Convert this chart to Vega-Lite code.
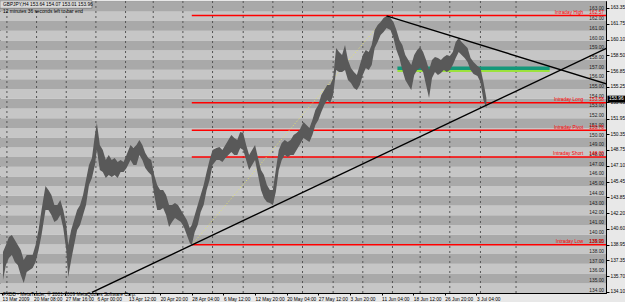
{
  "$schema": "https://vega.github.io/schema/vega-lite/v6.json",
  "width": 606,
  "height": 292,
  "autosize": {"type": "none"},
  "padding": {"left": 0, "top": 1, "right": 19, "bottom": 9},
  "background": "#e8e8e8",
  "config": {
    "view": {"stroke": "#222", "strokeWidth": 1},
    "font": "Liberation Sans",
    "text": {"font": "Liberation Sans", "fontSize": 4.8}
  },
  "resolve": {"axis": {"x": "independent", "y": "independent"}},
  "datasets": {
    "stripes": [
      {"k": 134}, {"k": 135}, {"k": 136}, {"k": 137}, {"k": 138}, {"k": 139}, {"k": 140}, {"k": 141}, {"k": 142}, {"k": 143},
      {"k": 144}, {"k": 145}, {"k": 146}, {"k": 147}, {"k": 148}, {"k": 149}, {"k": 150}, {"k": 151}, {"k": 152}, {"k": 153},
      {"k": 154}, {"k": 155}, {"k": 156}, {"k": 157}, {"k": 158}, {"k": 159}, {"k": 160}, {"k": 161}, {"k": 162}, {"k": 163}, {"k": 164}
    ],
    "grid": [
      {"b": 5}, {"b": 35}, {"b": 65}, {"b": 95}, {"b": 125}, {"b": 153}, {"b": 183}, {"b": 213}, {"b": 244},
      {"b": 274}, {"b": 304}, {"b": 335}, {"b": 365}, {"b": 395}, {"b": 423}, {"b": 453}, {"b": 484}, {"b": 520}
    ],
    "levels": [
      {"name": "Intraday High", "p": 162.57, "b": 192, "b2": 612, "v": "162.57"},
      {"name": "Intraday Long", "p": 153.58, "b": 192, "b2": 612, "v": "153.58"},
      {"name": "Intraday Pivot", "p": 150.76, "b": 192, "b2": 612, "v": "150.76"},
      {"name": "Intraday Short", "p": 148.0, "b": 192, "b2": 612, "v": "148.00"},
      {"name": "Intraday Low", "p": 138.95, "b": 192, "b2": 612, "v": "138.95"}
    ],
    "trend": [
      {"id": "up", "b": 91, "p": 134.05},
      {"id": "up", "b": 612, "p": 159.23},
      {"id": "down", "b": 389, "p": 162.53},
      {"id": "down", "b": 612, "p": 155.52}
    ],
    "dotted": [
      {"b": 192, "p": 138.94},
      {"b": 389, "p": 162.53}
    ],
    "green": [
      {"id": "teal", "b": 400, "b2": 554, "p": 157.14},
      {"id": "lime", "b": 400, "b2": 554, "p": 156.86}
    ],
    "bars": [
      {"b": 1, "hi": 138.22, "lo": 135.33},
      {"b": 4, "hi": 138.94, "lo": 136.88},
      {"b": 7, "hi": 139.76, "lo": 137.6},
      {"b": 10, "hi": 139.97, "lo": 137.91},
      {"b": 13, "hi": 139.45, "lo": 137.19},
      {"b": 16, "hi": 138.94, "lo": 136.88},
      {"b": 19, "hi": 138.42, "lo": 135.85},
      {"b": 22, "hi": 137.39, "lo": 135.03},
      {"b": 25, "hi": 137.91, "lo": 136.16},
      {"b": 28, "hi": 137.91, "lo": 136.36},
      {"b": 31, "hi": 137.91, "lo": 136.57},
      {"b": 34, "hi": 138.94, "lo": 137.19},
      {"b": 37, "hi": 140.48, "lo": 138.42},
      {"b": 40, "hi": 142.54, "lo": 139.97},
      {"b": 44, "hi": 145.02, "lo": 142.54},
      {"b": 47, "hi": 144.6, "lo": 142.54},
      {"b": 50, "hi": 144.09, "lo": 142.03},
      {"b": 53, "hi": 143.06, "lo": 141.31},
      {"b": 56, "hi": 143.06, "lo": 141.51},
      {"b": 59, "hi": 143.57, "lo": 142.03},
      {"b": 62, "hi": 142.54, "lo": 140.69},
      {"b": 65, "hi": 141.0, "lo": 138.42},
      {"b": 67, "hi": 138.94, "lo": 135.64},
      {"b": 70, "hi": 140.48, "lo": 137.39},
      {"b": 73, "hi": 141.51, "lo": 138.94},
      {"b": 76, "hi": 142.54, "lo": 140.48},
      {"b": 79, "hi": 143.06, "lo": 141.0},
      {"b": 82, "hi": 144.09, "lo": 142.03},
      {"b": 85, "hi": 145.63, "lo": 143.06},
      {"b": 88, "hi": 147.18, "lo": 145.12},
      {"b": 91, "hi": 147.9, "lo": 145.84},
      {"b": 94, "hi": 150.27, "lo": 147.18},
      {"b": 96, "hi": 151.51, "lo": 148.72},
      {"b": 99, "hi": 149.24, "lo": 146.66},
      {"b": 102, "hi": 148.72, "lo": 146.46},
      {"b": 105, "hi": 147.69, "lo": 145.84},
      {"b": 108, "hi": 148.21, "lo": 146.15},
      {"b": 111, "hi": 147.69, "lo": 145.94},
      {"b": 114, "hi": 147.9, "lo": 146.15},
      {"b": 117, "hi": 147.49, "lo": 145.84},
      {"b": 120, "hi": 147.69, "lo": 146.46},
      {"b": 123, "hi": 147.49, "lo": 146.46},
      {"b": 126, "hi": 148.21, "lo": 146.87},
      {"b": 130, "hi": 149.24, "lo": 147.69},
      {"b": 133, "hi": 148.93, "lo": 147.18},
      {"b": 136, "hi": 149.24, "lo": 147.18},
      {"b": 139, "hi": 149.75, "lo": 148.21},
      {"b": 142, "hi": 149.24, "lo": 147.69},
      {"b": 145, "hi": 148.42, "lo": 146.87},
      {"b": 148, "hi": 147.9, "lo": 146.46},
      {"b": 151, "hi": 147.69, "lo": 146.15},
      {"b": 154, "hi": 146.15, "lo": 144.09},
      {"b": 157, "hi": 145.12, "lo": 142.54},
      {"b": 160, "hi": 144.6, "lo": 142.54},
      {"b": 163, "hi": 144.6, "lo": 142.75},
      {"b": 166, "hi": 144.09, "lo": 142.03},
      {"b": 169, "hi": 143.06, "lo": 140.79},
      {"b": 172, "hi": 143.06, "lo": 141.31},
      {"b": 175, "hi": 143.27, "lo": 141.72},
      {"b": 178, "hi": 143.06, "lo": 141.51},
      {"b": 181, "hi": 142.54, "lo": 141.31},
      {"b": 184, "hi": 142.03, "lo": 140.79},
      {"b": 187, "hi": 141.51, "lo": 139.97},
      {"b": 190, "hi": 140.69, "lo": 139.15},
      {"b": 192, "hi": 141.0, "lo": 138.94},
      {"b": 195, "hi": 142.03, "lo": 140.28},
      {"b": 198, "hi": 143.06, "lo": 141.0},
      {"b": 201, "hi": 144.09, "lo": 142.34},
      {"b": 204, "hi": 145.12, "lo": 143.06},
      {"b": 207, "hi": 146.46, "lo": 144.6},
      {"b": 210, "hi": 147.69, "lo": 145.63},
      {"b": 213, "hi": 148.72, "lo": 147.18},
      {"b": 217, "hi": 148.93, "lo": 147.69},
      {"b": 220, "hi": 149.03, "lo": 147.69},
      {"b": 223, "hi": 148.72, "lo": 147.49},
      {"b": 226, "hi": 149.24, "lo": 147.9},
      {"b": 229, "hi": 149.75, "lo": 148.21},
      {"b": 232, "hi": 150.27, "lo": 148.52},
      {"b": 235, "hi": 149.96, "lo": 148.21},
      {"b": 238, "hi": 149.75, "lo": 148.21},
      {"b": 241, "hi": 150.58, "lo": 148.93},
      {"b": 244, "hi": 150.48, "lo": 148.72},
      {"b": 247, "hi": 149.24, "lo": 147.69},
      {"b": 250, "hi": 148.21, "lo": 146.66},
      {"b": 253, "hi": 148.72, "lo": 147.18},
      {"b": 256, "hi": 149.24, "lo": 147.69},
      {"b": 259, "hi": 147.9, "lo": 146.15},
      {"b": 262, "hi": 146.66, "lo": 144.6},
      {"b": 265, "hi": 146.15, "lo": 143.78},
      {"b": 268, "hi": 145.12, "lo": 143.37},
      {"b": 271, "hi": 144.6, "lo": 143.27},
      {"b": 274, "hi": 144.6, "lo": 143.06},
      {"b": 277, "hi": 146.66, "lo": 144.4},
      {"b": 280, "hi": 148.72, "lo": 146.66},
      {"b": 283, "hi": 149.45, "lo": 147.69},
      {"b": 286, "hi": 149.75, "lo": 148.21},
      {"b": 289, "hi": 149.55, "lo": 148.0},
      {"b": 292, "hi": 149.75, "lo": 148.21},
      {"b": 295, "hi": 150.27, "lo": 148.21},
      {"b": 298, "hi": 150.48, "lo": 148.72},
      {"b": 301, "hi": 150.78, "lo": 149.24},
      {"b": 305, "hi": 151.61, "lo": 149.96},
      {"b": 308, "hi": 151.3, "lo": 149.75},
      {"b": 311, "hi": 150.99, "lo": 149.55},
      {"b": 314, "hi": 151.81, "lo": 150.27},
      {"b": 317, "hi": 152.84, "lo": 151.3},
      {"b": 320, "hi": 153.36, "lo": 151.81},
      {"b": 323, "hi": 154.39, "lo": 152.64},
      {"b": 326, "hi": 154.9, "lo": 153.36},
      {"b": 329, "hi": 155.42, "lo": 153.87},
      {"b": 332, "hi": 155.42, "lo": 153.57},
      {"b": 335, "hi": 156.14, "lo": 154.39},
      {"b": 338, "hi": 159.23, "lo": 156.96},
      {"b": 341, "hi": 158.82, "lo": 156.76},
      {"b": 344, "hi": 158.51, "lo": 156.76},
      {"b": 347, "hi": 159.54, "lo": 156.96},
      {"b": 350, "hi": 157.99, "lo": 155.93},
      {"b": 353, "hi": 157.17, "lo": 155.63},
      {"b": 356, "hi": 156.76, "lo": 155.11},
      {"b": 359, "hi": 156.45, "lo": 154.9},
      {"b": 362, "hi": 157.48, "lo": 155.42},
      {"b": 365, "hi": 158.51, "lo": 156.45},
      {"b": 368, "hi": 159.02, "lo": 157.17},
      {"b": 371, "hi": 158.82, "lo": 156.96},
      {"b": 374, "hi": 159.54, "lo": 157.48},
      {"b": 377, "hi": 161.08, "lo": 159.23},
      {"b": 380, "hi": 161.6, "lo": 159.85},
      {"b": 383, "hi": 161.91, "lo": 160.57},
      {"b": 386, "hi": 162.32, "lo": 160.88},
      {"b": 389, "hi": 162.53, "lo": 161.29},
      {"b": 393, "hi": 162.32, "lo": 161.08},
      {"b": 396, "hi": 161.91, "lo": 160.26},
      {"b": 399, "hi": 161.08, "lo": 159.02},
      {"b": 402, "hi": 160.05, "lo": 158.2},
      {"b": 405, "hi": 159.54, "lo": 156.96},
      {"b": 408, "hi": 158.51, "lo": 155.93},
      {"b": 411, "hi": 157.99, "lo": 155.42},
      {"b": 414, "hi": 157.48, "lo": 154.9},
      {"b": 417, "hi": 158.51, "lo": 156.45},
      {"b": 420, "hi": 159.02, "lo": 156.96},
      {"b": 423, "hi": 159.33, "lo": 157.17},
      {"b": 426, "hi": 158.82, "lo": 156.76},
      {"b": 429, "hi": 157.99, "lo": 155.42},
      {"b": 432, "hi": 156.96, "lo": 154.08},
      {"b": 435, "hi": 157.99, "lo": 156.14},
      {"b": 438, "hi": 158.3, "lo": 156.76},
      {"b": 441, "hi": 158.2, "lo": 156.45},
      {"b": 444, "hi": 157.99, "lo": 156.66},
      {"b": 447, "hi": 158.3, "lo": 156.96},
      {"b": 450, "hi": 158.51, "lo": 156.76},
      {"b": 453, "hi": 158.41, "lo": 156.96},
      {"b": 456, "hi": 158.82, "lo": 157.48},
      {"b": 459, "hi": 159.85, "lo": 158.2},
      {"b": 462, "hi": 160.26, "lo": 158.82},
      {"b": 465, "hi": 159.85, "lo": 158.51},
      {"b": 468, "hi": 159.54, "lo": 158.2},
      {"b": 471, "hi": 159.23, "lo": 157.79},
      {"b": 474, "hi": 158.2, "lo": 156.96},
      {"b": 477, "hi": 157.79, "lo": 156.55},
      {"b": 481, "hi": 157.38, "lo": 156.35},
      {"b": 484, "hi": 157.17, "lo": 155.73},
      {"b": 487, "hi": 155.73, "lo": 153.87},
      {"b": 490, "hi": 154.07, "lo": 153.01}
    ],
    "notes": [
      {"b": 1, "p": 163.98, "t": "GBPJPY,H4  153.64 154.07 153.01 153.96"},
      {"b": 1, "p": 163.2, "t": "12 minutes 36 seconds left to bar end"},
      {"b": 1, "p": 134.12, "t": "FXDD - MetaTrader, © 2001-2009 MetaQuotes Software Corp."}
    ],
    "headbox": [{"b": -2, "b2": 91, "p": 164.1, "p2": 163.32}],
    "cur": [{"b": 612.5, "b2": 632, "p": 154.32, "p2": 153.6, "v": "153.96", "pm": 153.96}]
  },
  "layer": [
    {
      "data": {"name": "stripes"},
      "transform": [{"calculate": "datum.k + 1", "as": "k2"}],
      "mark": {"type": "rect", "clip": true},
      "encoding": {
        "y": {"field": "k", "type": "quantitative", "scale": {"domain": [133.99, 164.07], "nice": false, "zero": false}, "axis": null},
        "y2": {"field": "k2"},
        "color": {
          "condition": {"test": "datum.k % 2 == 1", "value": "#a9a9a9"},
          "value": "#c6c6c6"
        }
      }
    },
    {
      "data": {"name": "grid"},
      "mark": {"type": "rule", "color": "#555555", "strokeDash": [2, 3], "strokeWidth": 1},
      "encoding": {
        "x": {"field": "b", "type": "quantitative", "scale": {"domain": [-2, 611], "nice": false, "zero": false}, "axis": null}
      }
    },
    {
      "data": {"name": "stripes"},
      "transform": [{"filter": "datum.k <= 163"}, {"calculate": "format(datum.k, '.2f')", "as": "lab"}, {"calculate": "609", "as": "bx"}],
      "mark": {"type": "text", "align": "right", "baseline": "bottom", "color": "#1a1a1a", "fontSize": 4.8},
      "encoding": {
        "x": {"field": "bx", "type": "quantitative", "axis": null},
        "y": {"field": "k", "type": "quantitative", "axis": null},
        "text": {"field": "lab"}
      }
    },
    {
      "data": {"name": "levels"},
      "mark": {"type": "rule", "color": "#ff0000", "strokeWidth": 1.5, "clip": true},
      "encoding": {
        "x": {"field": "b", "type": "quantitative", "axis": null},
        "x2": {"field": "b2"},
        "y": {"field": "p", "type": "quantitative", "axis": null}
      }
    },
    {
      "data": {"name": "levels"},
      "transform": [{"calculate": "588", "as": "bx"}],
      "mark": {"type": "text", "align": "right", "baseline": "bottom", "color": "#ff0000", "fontSize": 4.8, "dy": -0.5},
      "encoding": {
        "x": {"field": "bx", "type": "quantitative", "axis": null},
        "y": {"field": "p", "type": "quantitative", "axis": null},
        "text": {"field": "name"}
      }
    },
    {
      "data": {"name": "levels"},
      "transform": [{"calculate": "609", "as": "bx"}],
      "mark": {"type": "text", "align": "right", "baseline": "bottom", "color": "#ff0000", "fontSize": 4.8, "dy": -0.5},
      "encoding": {
        "x": {"field": "bx", "type": "quantitative", "axis": null},
        "y": {"field": "p", "type": "quantitative", "axis": null},
        "text": {"field": "v"}
      }
    },
    {
      "data": {"name": "green"},
      "mark": {"type": "rule", "clip": true},
      "encoding": {
        "x": {"field": "b", "type": "quantitative", "axis": null},
        "x2": {"field": "b2"},
        "y": {"field": "p", "type": "quantitative", "axis": null},
        "color": {"field": "id", "type": "nominal", "scale": {"domain": ["teal", "lime"], "range": ["#14987a", "#9be23c"]}, "legend": null},
        "strokeWidth": {"field": "id", "type": "nominal", "scale": {"domain": ["teal", "lime"], "range": [3.5, 2]}, "legend": null}
      }
    },
    {
      "data": {"name": "dotted"},
      "mark": {"type": "line", "color": "#e4e46a", "strokeDash": [1, 2], "strokeWidth": 1, "clip": true},
      "encoding": {
        "x": {"field": "b", "type": "quantitative", "axis": null},
        "y": {"field": "p", "type": "quantitative", "axis": null}
      }
    },
    {
      "data": {"name": "bars"},
      "mark": {"type": "area", "color": "#595959", "clip": true},
      "encoding": {
        "x": {"field": "b", "type": "quantitative", "axis": null},
        "y": {"field": "lo", "type": "quantitative", "axis": null},
        "y2": {"field": "hi"}
      }
    },
    {
      "data": {"name": "trend"},
      "mark": {"type": "line", "color": "#000000", "strokeWidth": 1.4, "clip": true},
      "encoding": {
        "x": {
          "field": "b", "type": "quantitative",
          "axis": {
            "orient": "bottom", "title": null, "grid": false,
            "values": [0, 32, 64, 96, 128, 160, 192, 224, 256, 288, 320, 352, 384, 416, 448, 480],
            "labelExpr": "['13 Mar 2009','20 Mar 08:00','27 Mar 16:00','6 Apr 00:00','13 Apr 12:00','20 Apr 20:00','28 Apr 04:00','6 May 12:00','12 May 20:00','20 May 04:00','27 May 12:00','3 Jun 20:00','11 Jun 04:00','18 Jun 12:00','26 Jun 20:00','3 Jul 04:00'][round(datum.value/32)]",
            "labelAlign": "left", "labelFontSize": 4.8, "labelFont": "Liberation Sans", "labelColor": "#000",
            "labelPadding": 1, "tickSize": 2, "tickColor": "#000", "domainColor": "#000", "labelFlush": false, "labelOverlap": false
          }
        },
        "y": {
          "field": "p", "type": "quantitative",
          "axis": {
            "orient": "right", "title": null, "grid": false,
            "values": [163.35, 161.75, 160.1, 158.5, 156.85, 155.25, 153.65, 151.95, 150.35, 148.75, 147.1, 145.45, 143.85, 142.2, 140.6, 138.95, 137.35, 135.7, 134.1],
            "format": ".2f", "labelFontSize": 4.8, "labelFont": "Liberation Sans", "labelColor": "#000",
            "labelPadding": 1, "tickSize": 3, "tickColor": "#000", "domainColor": "#000", "labelOverlap": false, "labelFlush": false, "labelBaseline": "middle"
          }
        },
        "detail": {"field": "id"}
      }
    },
    {
      "data": {"name": "headbox"},
      "mark": {"type": "rect", "fill": "#dadada", "stroke": "#666", "strokeWidth": 0.6},
      "encoding": {
        "x": {"field": "b", "type": "quantitative", "axis": null},
        "x2": {"field": "b2"},
        "y": {"field": "p", "type": "quantitative", "axis": null},
        "y2": {"field": "p2"}
      }
    },
    {
      "data": {"name": "notes"},
      "mark": {"type": "text", "align": "left", "baseline": "top", "color": "#000", "fontSize": 4.8},
      "encoding": {
        "x": {"field": "b", "type": "quantitative", "axis": null},
        "y": {"field": "p", "type": "quantitative", "axis": null},
        "text": {"field": "t"}
      }
    },
    {
      "data": {"name": "cur"},
      "mark": {"type": "rect", "fill": "#000", "clip": false},
      "encoding": {
        "x": {"field": "b", "type": "quantitative", "axis": null},
        "x2": {"field": "b2"},
        "y": {"field": "p", "type": "quantitative", "axis": null},
        "y2": {"field": "p2"}
      }
    },
    {
      "data": {"name": "cur"},
      "mark": {"type": "text", "align": "left", "baseline": "middle", "color": "#fff", "fontSize": 4.8, "dx": 1.5},
      "encoding": {
        "x": {"field": "b", "type": "quantitative", "axis": null},
        "y": {"field": "pm", "type": "quantitative", "axis": null},
        "text": {"field": "v"}
      }
    }
  ]
}
